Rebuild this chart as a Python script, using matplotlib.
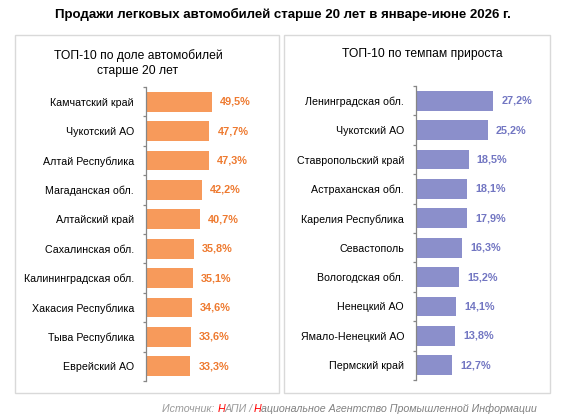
import matplotlib
matplotlib.use("Agg")
import matplotlib.pyplot as plt
from matplotlib.patches import Rectangle

# Данные (левый и правый рейтинги)
reg_dolya = ["Камчатский край", "Чукотский АО", "Алтай Республика", "Магаданская обл.",
             "Алтайский край", "Сахалинская обл.", "Калининградская обл.",
             "Хакасия Республика", "Тыва Республика", "Еврейский АО"]
dolya = [49.5, 47.7, 47.3, 42.2, 40.7, 35.8, 35.1, 34.6, 33.6, 33.3]

reg_prirost = ["Ленинградская обл.", "Чукотский АО", "Ставропольский край", "Астраханская обл.",
               "Карелия Республика", "Севастополь", "Вологодская обл.", "Ненецкий АО",
               "Ямало-Ненецкий АО", "Пермский край"]
prirost = [27.2, 25.2, 18.5, 18.1, 17.9, 16.3, 15.2, 14.1, 13.8, 12.7]

W, H = 568, 418
plt.rcParams['font.family'] = ['Liberation Sans', 'DejaVu Sans']

fig = plt.figure(figsize=(W / 100, H / 100), dpi=100)

def px(x0, y0, x1, y1):
    # пиксели (от верхнего левого угла) -> координаты фигуры
    return [x0 / W, 1 - y1 / H, (x1 - x0) / W, (y1 - y0) / H]

# рамки панелей
for x0, x1 in [(15, 279), (284, 550)]:
    fig.patches.append(Rectangle((x0 / W, 1 - 393 / H), (x1 - x0) / W, (393 - 35) / H,
                                 transform=fig.transFigure, fill=False,
                                 edgecolor='#D9D9D9', linewidth=1.0))

fig.text(283 / W, 1 - 14 / H, "Продажи легковых автомобилей старше 20 лет в январе-июне 2026 г.",
         ha='center', va='center', fontsize=9.5, fontweight='bold', color='black')

fig.text(138 / W, 1 - 63 / H, "ТОП-10 по доле автомобилей\nстарше 20 лет", ha='center',
         va='center', fontsize=8.7, linespacing=1.3, color='black')
fig.text(422 / W, 1 - 54 / H, "ТОП-10 по темпам прироста", ha='center',
         va='center', fontsize=8.7, color='black')


def panel(rect, names, vals, xmax, bar_c, lab_c):
    ax = fig.add_axes(rect)
    y = range(len(vals))
    ax.barh(y, vals, height=0.68, color=bar_c)
    ax.set_xlim(0, xmax)
    ax.set_ylim(len(vals) - 0.5, -0.5)
    for sp in ['top', 'right', 'bottom']:
        ax.spines[sp].set_visible(False)
    ax.spines['left'].set_color('#868686')
    ax.spines['left'].set_linewidth(0.9)
    ax.set_xticks([])
    ax.set_yticks(list(y))
    ax.set_yticklabels(names, fontsize=7.7)
    ax.tick_params(axis='y', which='major', length=0, pad=8.6)
    ax.set_yticks([i - 0.5 for i in range(len(vals) + 1)], minor=True)
    ax.tick_params(axis='y', which='minor', length=2.5, color='#868686', width=0.9)
    for i, v in enumerate(vals):
        ax.annotate(f"{v:.1f}%".replace('.', ','), (v, i), xytext=(5.8, 0),
                    textcoords='offset points', ha='left', va='center',
                    fontsize=7.8, fontweight='bold', color=lab_c)
    ax.patch.set_visible(False)
    return ax


panel(px(146, 87, 146 + 60 * 1.33, 381), reg_dolya, dolya, 60, '#F79A5B', '#EE7A30')
panel(px(416, 86, 416 + 30 * 2.84, 380), reg_prirost, prirost, 30, '#8B8FCB', '#7276C2')

# источник
src = [("Источник: ", '#9A9A9A'), ("Н", '#FF0000'), ("АПИ /", '#9A9A9A'), ("Н", '#FF0000'),
       ("ациональное Агентство Промышленной Информации", '#808080')]
r = fig.canvas.get_renderer()
x = 162 / W
for s, c in src:
    t = fig.text(x, 1 - 409 / H, s, ha='left', va='center', fontsize=7.7,
                 style='italic', color=c)
    bb = t.get_window_extent(renderer=r)
    x += bb.width / W

fig.savefig("out.png", dpi=100)
